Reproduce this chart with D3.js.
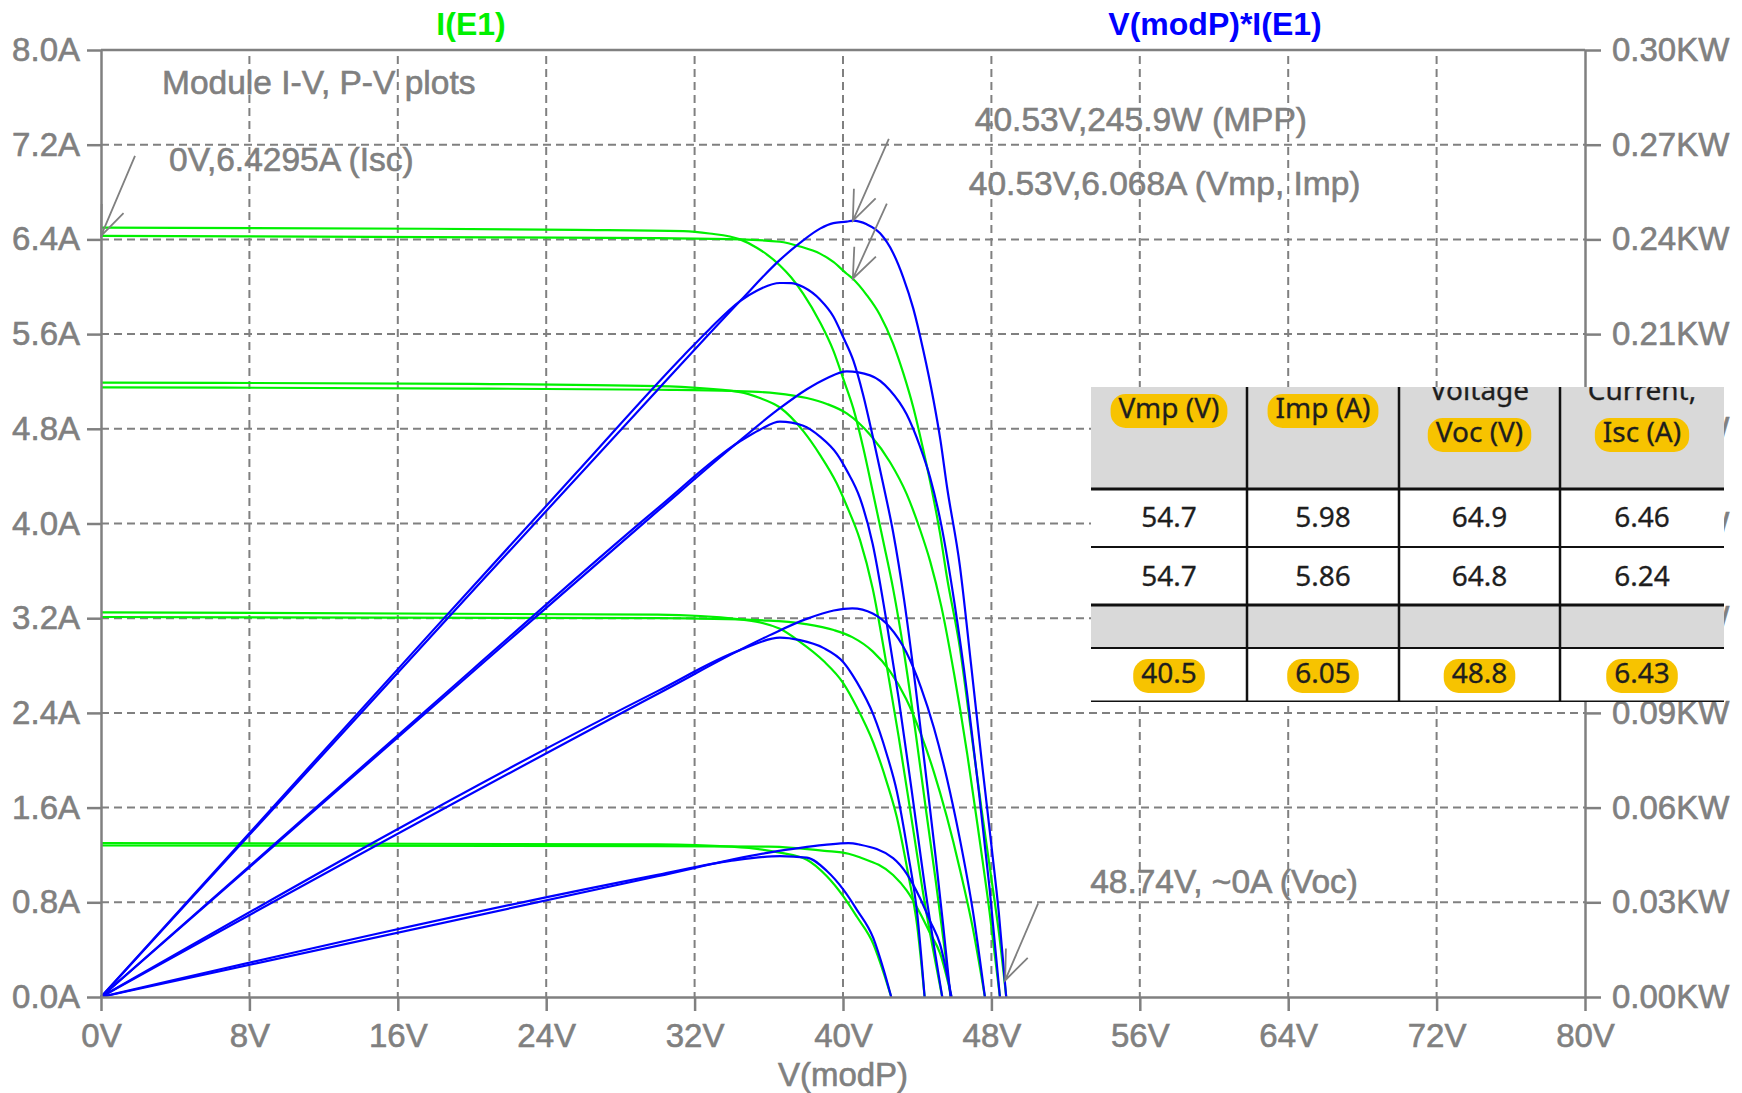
<!DOCTYPE html>
<html>
<head>
<meta charset="utf-8">
<script src="https://cdn.jsdelivr.net/npm/d3@7"></script>
<style>
  body { margin: 0; background: #fff; }
  svg { display: block; }
</style>
</head>
<body>
<div id="chart"></div>
<script>
// I-V sweeps, [volts, amps]; "hot" = the higher temperature set
let iv25_1000 = [[0,6.43],[17.7,6.42],[30,6.41],[34.45,6.40],[36.6,6.38],[37.68,6.34],[38.76,6.28],[39.48,6.21],[40.2,6.11],[40.53,6.068],[41.28,5.93],[42.0,5.76],[42.7,5.52],[43.25,5.27],[43.79,4.98],[44.33,4.62],[44.87,4.22],[45.25,3.9],[45.6,3.55],[46.3,2.95],[46.9,2.25],[47.5,1.55],[48.0,1.0],[48.4,0.55],[48.8,0]];
let ivHot_1000 = [[0,6.50],[17.7,6.49],[25.6,6.48],[31.4,6.47],[32.8,6.45],[34.45,6.40],[35.35,6.33],[36.6,6.18],[37.2,6.08],[37.86,5.94],[38.76,5.70],[39.48,5.46],[40.02,5.22],[40.56,4.97],[41.09,4.64],[41.63,4.25],[42.17,3.85],[42.7,3.45],[43.3,2.9],[43.9,2.25],[44.5,1.55],[45.0,0.98],[45.4,0.5],[45.8,0]];
let iv25_800 = [[0,5.15],[20,5.14],[30,5.13],[34,5.12],[36.42,5.10],[38.05,5.06],[39.13,5.01],[40.2,4.93],[41.46,4.75],[42.53,4.52],[43.43,4.25],[44.15,3.95],[44.7,3.68],[45.3,3.3],[46.0,2.72],[46.7,2.05],[47.3,1.4],[47.9,0.72],[48.46,0]];
let ivHot_800 = [[0,5.19],[20,5.18],[30,5.16],[34.45,5.11],[35.52,5.06],[36.6,4.98],[37.86,4.78],[38.76,4.58],[39.66,4.34],[40.2,4.15],[40.92,3.86],[41.6,3.45],[42.3,2.85],[43.0,2.2],[43.7,1.5],[44.4,0.8],[45.35,0]];
let iv25_500 = [[0,3.21],[30,3.20],[36,3.18],[38,3.15],[39.5,3.10],[40.5,3.04],[41.6,2.92],[42.5,2.76],[43.4,2.52],[44.2,2.22],[44.9,1.90],[45.6,1.52],[46.3,1.08],[47.0,0.58],[47.65,0]];
let ivHot_500 = [[0,3.25],[30,3.23],[34.45,3.19],[36.6,3.11],[37.68,3.00],[38.94,2.84],[40.02,2.65],[40.74,2.45],[41.63,2.15],[42.35,1.82],[42.9,1.52],[43.5,1.05],[44.0,0.6],[44.4,0]];
let iv25_200 = [[0,1.28],[30,1.275],[36,1.27],[39,1.235],[40.3,1.21],[40.9,1.18],[42.7,1.03],[43.43,0.90],[44.15,0.71],[44.69,0.54],[45.23,0.37],[45.85,0]];
let ivHot_200 = [[0,1.30],[30,1.29],[34,1.27],[36.6,1.22],[38.05,1.16],[39.13,1.02],[40.02,0.85],[40.74,0.68],[41.63,0.45],[42.2,0.2],[42.6,0]];

let sweeps = [iv25_1000, ivHot_1000, iv25_800, ivHot_800, iv25_500, ivHot_500, iv25_200, ivHot_200];

// axis ticks
let volts = [0, 8, 16, 24, 32, 40, 48, 56, 64, 72, 80];
let amps = [0, 0.8, 1.6, 2.4, 3.2, 4.0, 4.8, 5.6, 6.4, 7.2, 8.0];
let watts = [0, 30, 60, 90, 120, 150, 180, 210, 240, 270, 300];

// cursor notes: tip in data units, which axis the value belongs to
let notes = [
    {text: "0V,6.4295A (Isc)", v: 0, val: 6.4295, axis: "A", tx: 68, ty: -65, ax: 34, ay: -80},
    {text: "40.53V,245.9W (MPP)", v: 40.53, val: 245.9, axis: "W", tx: 122, ty: -90, ax: 36, ay: -82},
    {text: "40.53V,6.068A (Vmp, Imp)", v: 40.53, val: 6.068, axis: "A", tx: 116, ty: -84, ax: 34, ay: -75},
    {text: "48.74V, ~0A (Voc)", v: 48.74, val: 0.14, axis: "A", tx: 85, ty: -87, ax: 33, ay: -77}
];

// the pasted spec table
let tableTop = ["", "", "Voltage", "Current,"];
let tableHead = ["Vmp (V)", "Imp (A)", "Voc (V)", "Isc (A)"];
let tableRow1 = ["54.7", "5.98", "64.9", "6.46"];
let tableRow2 = ["54.7", "5.86", "64.8", "6.24"];
let tableRow4 = ["40.5", "6.05", "48.8", "6.43"];

let gray = "#808080";
let colorGreen = "#00f000";
let colorBlue = "#0000ff";
let font = "'Liberation Sans', Arial, sans-serif";

let width = 1742,
    height = 1093;

let svg = d3.select("#chart")
    .append("svg")
    .attr("width", width)
    .attr("height", height)
    .style("background", "#fff");

let x = d3.scaleLinear().domain([0, 80]).range([101, 1585]);
let yA = d3.scaleLinear().domain([0, 8]).range([997, 50]);
let yP = d3.scaleLinear().domain([0, 300]).range([997, 50]);

function tipY(d) { return d.axis == "W" ? yP(d.val) : yA(d.val); }

// cursor note texts sit under the grid
svg.append("text")
    .attr("x", x(0) + 61)
    .attr("y", yA(8) + 44)
    .text("Module I-V, P-V plots");

svg.selectAll(".note")
    .data(notes)
    .enter()
    .append("text")
    .attr("class", "note")
    .attr("x", function(d) { return x(d.v) + d.tx; })
    .attr("y", function(d) { return tipY(d) + d.ty; })
    .text(function(d) { return d.text; });

svg.selectAll("text")
    .attr("font-family", font)
    .attr("font-size", 33.5)
    .attr("fill", gray)
    .attr("stroke", gray)
    .attr("stroke-width", 0.6);

// dashed grid
let grid = svg.append("g")
    .attr("stroke", gray)
    .attr("stroke-width", 2)
    .attr("stroke-dasharray", "8,5");

grid.selectAll(".vgrid")
    .data(volts.slice(1, -1))
    .enter()
    .append("line")
    .attr("x1", function(d) { return x(d); })
    .attr("x2", function(d) { return x(d); })
    .attr("y1", yA(8) + 6)
    .attr("y2", yA(0));

grid.selectAll(".hgrid")
    .data(amps.slice(1, -1))
    .enter()
    .append("line")
    .attr("y1", function(d) { return yA(d); })
    .attr("y2", function(d) { return yA(d); })
    .attr("x1", x(0))
    .attr("x2", x(80));

// curves
let ivLine = d3.line()
    .x(function(d) { return x(d[0]); })
    .y(function(d) { return yA(d[1]); })
    .curve(d3.curveMonotoneX);

// trace is V(modP)*I(E1)
let pvLine = d3.line()
    .x(function(d) { return x(d[0]); })
    .y(function(d) { return yP(d[0] * d[1]); })
    .curve(d3.curveMonotoneX);

let traces = svg.append("g").attr("fill", "none").attr("stroke-width", 2.2);

traces.selectAll(".iv")
    .data(sweeps)
    .enter()
    .append("path")
    .attr("class", "iv")
    .attr("d", ivLine)
    .attr("stroke", colorGreen);

traces.selectAll(".pv")
    .data(sweeps)
    .enter()
    .append("path")
    .attr("class", "pv")
    .attr("d", pvLine)
    .attr("stroke", colorBlue);

// cursor arrows
let arrows = svg.append("g")
    .attr("stroke", gray)
    .attr("stroke-width", 1.8)
    .attr("fill", "none");

notes.forEach(function(d) {
    let x0 = x(d.v), y0 = tipY(d);
    let ang = Math.atan2(d.ay, d.ax);
    let leg = 32, spread = 0.38;
    arrows.append("path")
        .attr("d", "M" + (x0 + d.ax) + "," + (y0 + d.ay) + "L" + x0 + "," + y0 +
            "M" + (x0 + leg * Math.cos(ang - spread)) + "," + (y0 + leg * Math.sin(ang - spread)) +
            "L" + x0 + "," + y0 +
            "L" + (x0 + leg * Math.cos(ang + spread)) + "," + (y0 + leg * Math.sin(ang + spread)));
});

// axes
function styleAxis(g) {
    g.attr("font-family", font).attr("font-size", 33);
    g.select(".domain").attr("stroke", gray).attr("stroke-width", 2.5);
    g.selectAll(".tick line").attr("stroke", gray).attr("stroke-width", 2.5);
    g.selectAll(".tick text").attr("fill", gray).attr("stroke", gray).attr("stroke-width", 0.6);
}

svg.append("g")
    .attr("transform", "translate(" + x(0) + ",0)")
    .call(d3.axisLeft(yA).tickValues(amps).tickSize(14).tickSizeOuter(0).tickPadding(7)
        .tickFormat(function(d) { return d.toFixed(1) + "A"; }))
    .call(styleAxis);

svg.append("g")
    .attr("transform", "translate(" + x(80) + ",0)")
    .call(d3.axisRight(yP).tickValues(watts).tickSize(16).tickSizeOuter(0).tickPadding(11)
        .tickFormat(function(d) { return (d / 1000).toFixed(2) + "KW"; }))
    .call(styleAxis);

svg.append("g")
    .attr("transform", "translate(0," + yA(0) + ")")
    .call(d3.axisBottom(x).tickValues(volts).tickSize(14).tickSizeOuter(0)
        .tickFormat(function(d) { return d + "V"; }))
    .call(styleAxis)
    .selectAll(".tick text")
    .attr("y", 50)
    .attr("dy", 0);

svg.append("line")
    .attr("x1", x(0)).attr("x2", x(80))
    .attr("y1", yA(8)).attr("y2", yA(8))
    .attr("stroke", gray)
    .attr("stroke-width", 2.5);

// trace names and x label
svg.append("text")
    .attr("x", 471).attr("y", 35)
    .attr("text-anchor", "middle")
    .attr("font-family", font).attr("font-size", 32).attr("font-weight", "bold")
    .attr("fill", colorGreen)
    .text("I(E1)");

svg.append("text")
    .attr("x", 1215).attr("y", 35)
    .attr("text-anchor", "middle")
    .attr("font-family", font).attr("font-size", 32).attr("font-weight", "bold")
    .attr("fill", colorBlue)
    .text("V(modP)*I(E1)");

svg.append("text")
    .attr("x", x(40)).attr("y", 1086)
    .attr("text-anchor", "middle")
    .attr("font-family", font).attr("font-size", 33)
    .attr("fill", gray)
    .attr("stroke", gray)
    .attr("stroke-width", 0.6)
    .text("V(modP)");

// pasted table, clipped like the screenshot
let colX = [1091, 1247, 1399, 1560, 1724];
let rowY = [387, 489, 547, 605, 648, 702];
let colMid = colX.slice(0, 4).map(function(c, i) { return (c + colX[i + 1]) / 2; });

svg.append("defs").append("clipPath").attr("id", "tblClip")
    .append("rect")
    .attr("x", colX[0]).attr("y", rowY[0])
    .attr("width", colX[4] - colX[0]).attr("height", rowY[5] - rowY[0]);

let tbl = svg.append("g").attr("clip-path", "url(#tblClip)");

tbl.append("rect")
    .attr("x", colX[0]).attr("y", rowY[0])
    .attr("width", colX[4] - colX[0]).attr("height", rowY[5] - rowY[0])
    .attr("fill", "#fff");

[[rowY[0], rowY[1]], [rowY[3], rowY[4]]].forEach(function(r) {
    tbl.append("rect")
        .attr("x", colX[0]).attr("y", r[0])
        .attr("width", colX[4] - colX[0]).attr("height", r[1] - r[0])
        .attr("fill", "#d9d9d9");
});

let cells = [
    {texts: tableTop, y: 400, mark: false},
    {texts: tableHead, y: [418, 418, 442, 442], mark: true},
    {texts: tableRow1, y: 527, mark: false},
    {texts: tableRow2, y: 586, mark: false},
    {texts: tableRow4, y: 683, mark: true}
];

cells.forEach(function(row) {
    row.texts.forEach(function(t, i) {
        if (!t) return;
        let by = Array.isArray(row.y) ? row.y[i] : row.y;
        let pill = row.mark ? tbl.append("rect") : null;
        let txt = tbl.append("text")
            .attr("x", colMid[i]).attr("y", by)
            .attr("text-anchor", "middle")
            .attr("font-family", "'Noto Sans', 'Open Sans', sans-serif")
            .attr("font-size", 28)
            .attr("fill", "#1e1e1e")
            .attr("stroke", "#1e1e1e")
            .attr("stroke-width", 0.3)
            .text(t);
        if (pill) {
            let w = txt.node().getComputedTextLength() + 16;
            pill.attr("x", colMid[i] - w / 2).attr("y", by - 24)
                .attr("width", w).attr("height", 34)
                .attr("rx", 15)
                .attr("fill", "#f7c300");
        }
    });
});

rowY.slice(1).forEach(function(r, i) {
    tbl.append("line")
        .attr("x1", colX[0]).attr("x2", colX[4])
        .attr("y1", r).attr("y2", r)
        .attr("stroke", "#111")
        .attr("stroke-width", i % 2 == 0 ? 3 : 2.2);
});

colX.slice(1, 4).forEach(function(c) {
    tbl.append("line")
        .attr("x1", c).attr("x2", c)
        .attr("y1", rowY[0]).attr("y2", rowY[5])
        .attr("stroke", "#111")
        .attr("stroke-width", 2.5);
});
</script>
</body>
</html>
